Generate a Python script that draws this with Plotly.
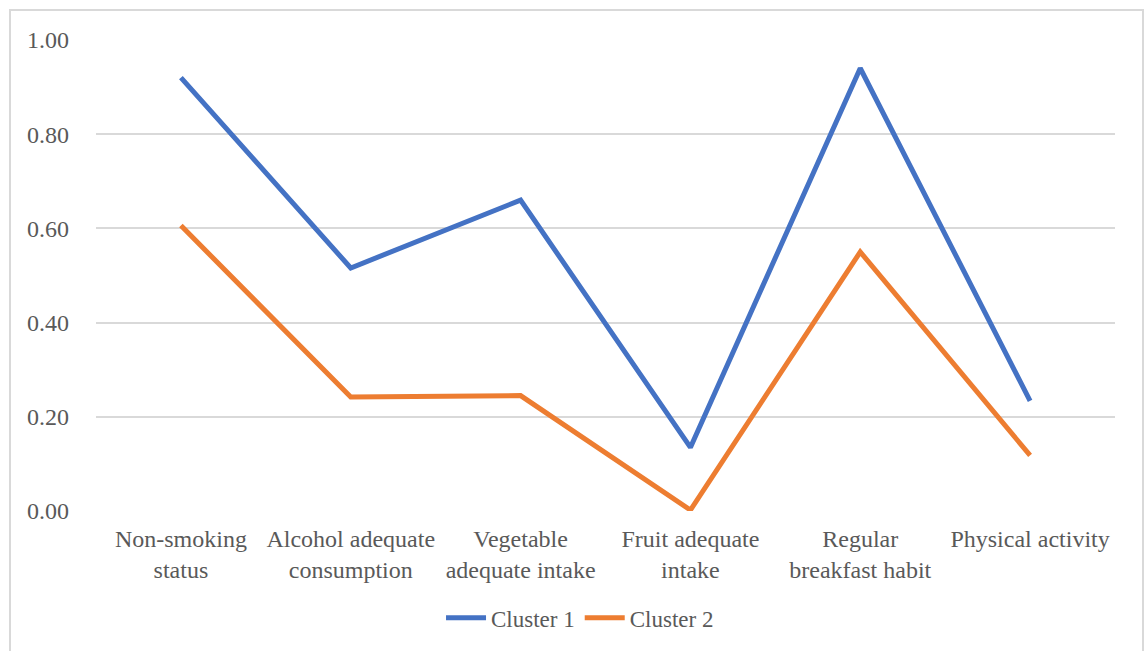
import plotly.graph_objects as go

categories = [
    "Non-smoking<br>status",
    "Alcohol adequate<br>consumption",
    "Vegetable<br>adequate intake",
    "Fruit adequate<br>intake",
    "Regular<br>breakfast habit",
    "Physical activity",
]
cluster1 = [0.92, 0.516, 0.66, 0.135, 0.94, 0.234]
cluster2 = [0.606, 0.242, 0.245, 0.002, 0.55, 0.118]
y_ticks = [0.0, 0.2, 0.4, 0.6, 0.8, 1.0]

FONT = "Liberation Serif"
GREY = "#595959"

fig = go.Figure()
fig.add_trace(go.Scatter(x=categories, y=cluster1, mode="lines", name="Cluster 1",
                         line=dict(color="#4472C4", width=5), cliponaxis=False))
fig.add_trace(go.Scatter(x=categories, y=cluster2, mode="lines", name="Cluster 2",
                         line=dict(color="#ED7D31", width=5), cliponaxis=False))

fig.update_layout(
    width=1147, height=651,
    margin=dict(l=96, r=32, t=40, b=140),
    paper_bgcolor="white", plot_bgcolor="white",
    font=dict(family=FONT, size=24, color=GREY),
    showlegend=True,
    legend=dict(orientation="h", x=0.475, xanchor="center", y=-0.227, yanchor="middle",
                font=dict(family=FONT, size=23, color=GREY), itemwidth=40,
                tracegroupgap=0),
    shapes=[dict(type="rect", xref="paper", yref="paper",
                 x0=-0.0844, x1=1.0275, y0=-0.33, y1=1.0637,
                 line=dict(color="#D9D9D9", width=2), layer="below")],
)
fig.update_xaxes(range=[-0.5, 5.5], automargin=False,
                 showgrid=False, showline=False, zeroline=False, ticks="",
                 ticklabelstandoff=11, tickfont=dict(family=FONT, size=24, color=GREY))
fig.update_yaxes(range=[0, 1], tickvals=y_ticks, tickformat=".2f", automargin=False,
                 showgrid=True, gridcolor="#D9D9D9", gridwidth=1.5,
                 zeroline=False, showline=False, ticks="",
                 ticklabelstandoff=26, tickfont=dict(family=FONT, size=24, color=GREY))

fig.write_html("out.html")
